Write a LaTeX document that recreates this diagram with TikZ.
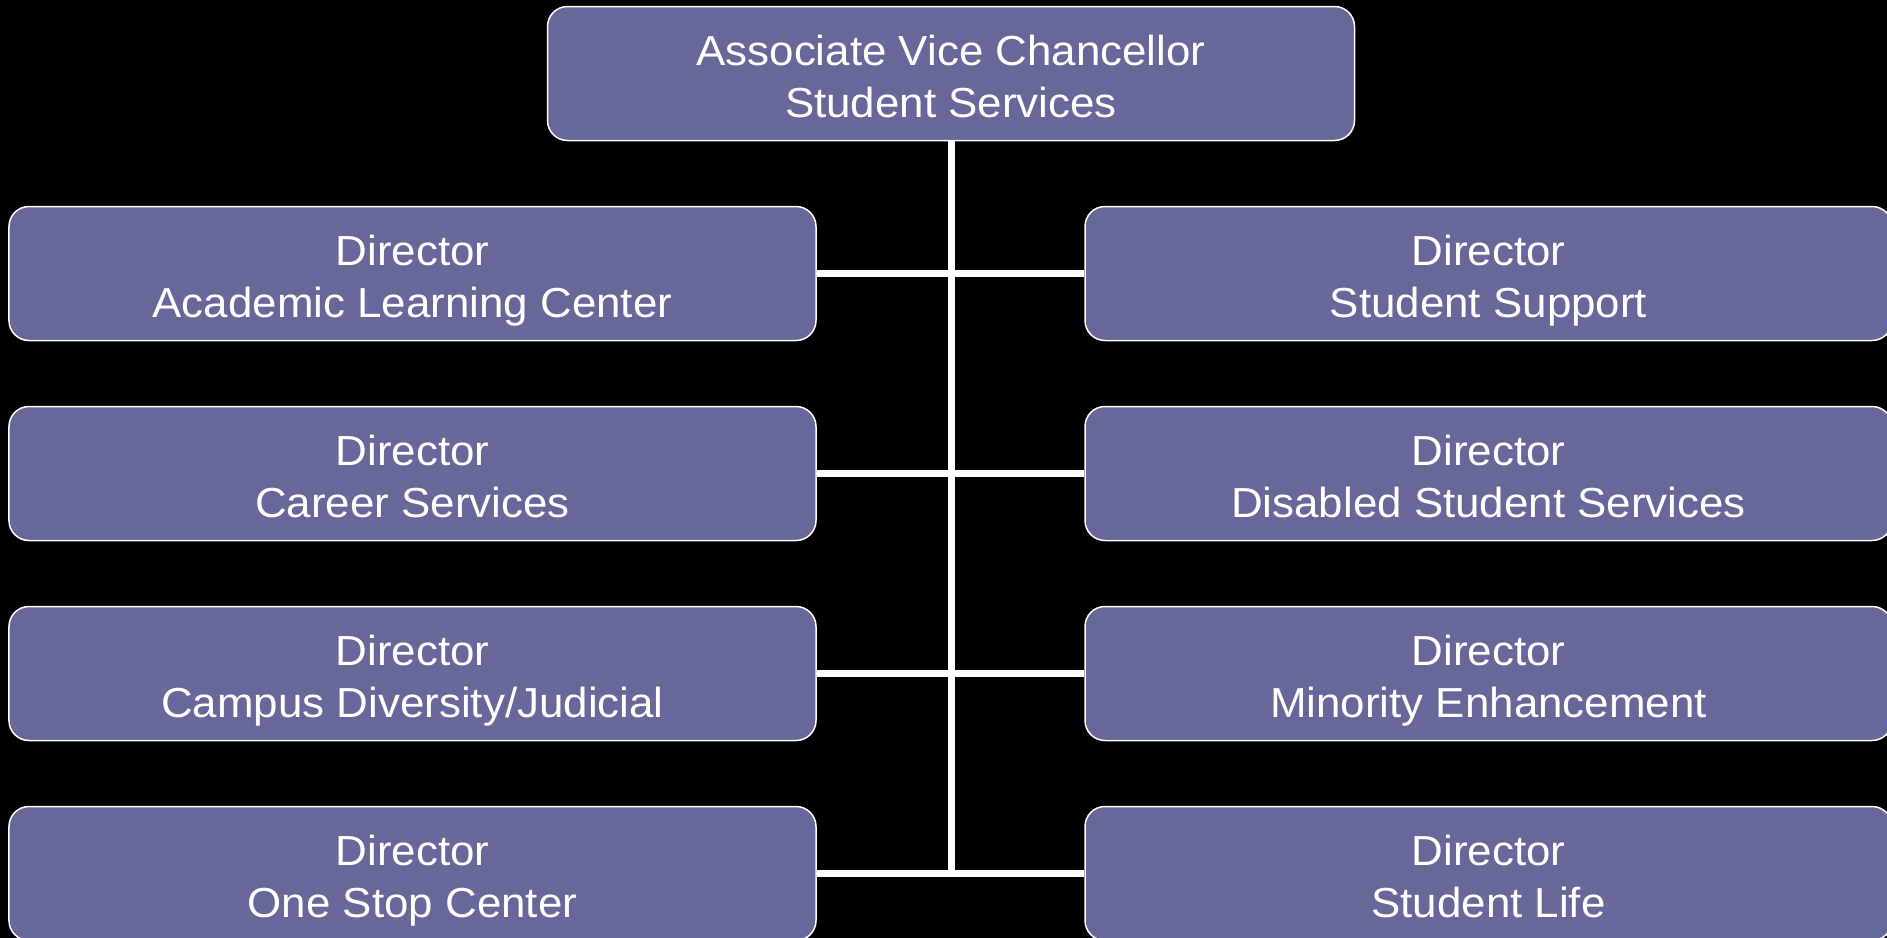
\documentclass[tikz,border=0pt]{standalone}
\usepackage{fontspec}
\setmainfont{Liberation Sans}[FakeStretch=1.045]
\definecolor{boxfill}{RGB}{103,103,153}
\newcommand\toprule{\rule{0pt}{35bp}}
\begin{document}
\begin{tikzpicture}[x=1bp,y=-1bp,
  box/.style={draw=white, line width=1.5bp, fill=boxfill, rounded corners=20bp,
    minimum width=807bp, minimum height=134bp, inner sep=0pt, align=center,
    text=white, font=\fontsize{42bp}{52bp}\selectfont},
  link/.style={draw=white, line width=7bp}]
\fill[black] (0,0) rectangle (1887,938);
\useasboundingbox (0,0) rectangle (1887,938);
\clip (0,0) rectangle (1887,938);
\node[box] (avc) at (951,73.5) {\toprule Associate Vice Chancellor\\\smash{Student Services}};
\node[box] (l1) at (412.5,273.5) {\toprule Director\\\smash{Academic Learning Center}};
\node[box] (l2) at (412.5,473.5) {\toprule Director\\\smash{Career Services}};
\node[box] (l3) at (412.5,673.5) {\toprule Director\\\smash{Campus Diversity/Judicial}};
\node[box] (l4) at (412.5,873.5) {\toprule Director\\\smash{One Stop Center}};
\node[box] (r1) at (1488.5,273.5) {\toprule Director\\\smash{Student Support}};
\node[box] (r2) at (1488.5,473.5) {\toprule Director\\\smash{Disabled Student Services}};
\node[box] (r3) at (1488.5,673.5) {\toprule Director\\\smash{Minority Enhancement}};
\node[box] (r4) at (1488.5,873.5) {\toprule Director\\\smash{Student Life}};
\coordinate (trunkend) at ([yshift=-3.5bp]avc.south |- l4.east);
\draw[link] (avc.south) -- (trunkend);
\draw[link] (l1) -- (r1);
\draw[link] (l2) -- (r2);
\draw[link] (l3) -- (r3);
\draw[link] (l4) -- (r4);
\end{tikzpicture}
\end{document}
